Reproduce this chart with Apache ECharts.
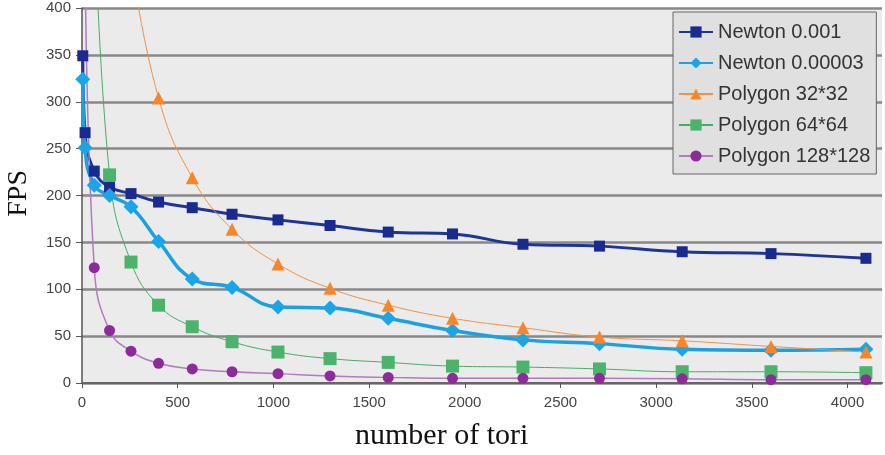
<!DOCTYPE html>
<html>
<head>
<meta charset="utf-8">
<script src="https://cdn.jsdelivr.net/npm/echarts@6/dist/echarts.min.js"></script>
<style>
  html, body { margin: 0; padding: 0; background: #fff; }
  #chart { width: 885px; height: 455px; }
</style>
</head>
<body>
<div id="chart"></div>
<script>
// number of tori (squares: 2^2 ... 64^2)
var tori = [4, 16, 64, 144, 256, 400, 576, 784, 1024, 1296, 1600, 1936, 2304, 2704, 3136, 3600, 4096];

var newton001   = [349, 267, 226, 209, 202, 193, 187, 180, 174, 168, 161, 159, 148, 146, 140, 138, 133];
var newton00003 = [324, 251, 211, 200, 188, 151, 111, 102, 81, 80, 69, 56, 46, 42, 36, 35, 36];
// polygon series start later, first points lie above the plot
var poly32  = [450, 304, 219, 164, 127, 101, 83, 69, 59, 49, 45, 39, 33];
var poly64  = [520, 222, 129, 83, 60, 44, 33, 26, 22, 18, 17, 15, 12, 12, 11];
var poly128 = [480, 123, 56, 34, 21, 15, 12, 10, 7.5, 6, 5, 5, 5, 4.5, 3.5, 3.5];

var xTicks = [0, 500, 1000, 1500, 2000, 2500, 3000, 3500, 4000];

function pairs(values) {
  var xs = tori.slice(tori.length - values.length);
  var res = [];
  for (var i = 0; i < values.length; i++) {
    res.push([xs[i], values[i]]);
  }
  return res;
}

function makeSeries(name, values, lineColor, markColor, width, symbol, size) {
  return {
    name: name,
    type: 'line',
    data: pairs(values),
    smooth: 0.45,
    symbol: symbol,
    symbolSize: size,
    showAllSymbol: true,
    clip: true,
    lineStyle: { color: lineColor, width: width },
    itemStyle: { color: markColor },
    emphasis: { disabled: true }
  };
}

var chart = echarts.init(document.getElementById('chart'));
chart.setOption({
  animation: false,
  grid: {
    left: 82, right: 3, top: 8, bottom: 72,
    show: true, backgroundColor: '#ebebeb', borderWidth: 0
  },
  legend: {
    orient: 'vertical',
    left: 673, top: 12,
    padding: [10, 6, 8, 5],
    itemGap: 11,
    itemWidth: 34,
    itemHeight: 14,
    backgroundColor: '#e0e0e0',
    borderColor: '#666',
    borderWidth: 1,
    textStyle: { fontFamily: 'Liberation Sans', fontSize: 20, color: '#333', lineHeight: 20 }
  },
  xAxis: {
    type: 'value',
    min: 0, max: 4180, interval: 500,
    axisLine: { show: true, lineStyle: { color: '#666', width: 2 } },
    axisTick: { show: true, customValues: xTicks, length: 5, lineStyle: { color: '#555' } },
    axisLabel: {
      customValues: xTicks,
      formatter: function (v) { return String(v); },
      margin: 12,
      fontFamily: 'Liberation Sans', fontSize: 15, color: '#444'
    },
    splitLine: { show: false }
  },
  yAxis: {
    type: 'value',
    min: 0, max: 400, interval: 50,
    axisLine: { show: true, lineStyle: { color: '#555', width: 1.5 } },
    axisTick: { show: true, length: 6, lineStyle: { color: '#555' } },
    axisLabel: { margin: 11, fontFamily: 'Liberation Sans', fontSize: 15, color: '#444' },
    splitLine: { show: true, lineStyle: { color: '#888', width: 2.5 } }
  },
  graphic: [
    {
      type: 'text', left: 5, top: 170, rotation: Math.PI / 2,
      style: { text: 'FPS', font: '28px "Liberation Serif"', fill: '#111' }
    },
    {
      type: 'text', left: 355, top: 421,
      style: { text: 'number of tori', font: '30px "Liberation Serif"', fill: '#111' }
    }
  ],
  series: [
    makeSeries('Newton 0.001', newton001, '#1c3597', '#1a2b8f', 3, 'rect', 11),
    makeSeries('Newton 0.00003', newton00003, '#1ba0e0', '#1aa6e6', 3.5, 'diamond', 15),
    makeSeries('Polygon 32*32', poly32, '#f59040', '#f7862a', 1, 'triangle', 13),
    makeSeries('Polygon 64*64', poly64, '#47ad62', '#4cb46a', 1, 'rect', 13),
    makeSeries('Polygon 128*128', poly128, '#b27ac0', '#8d2a9c', 1.5, 'circle', 11)
  ]
});
</script>
</body>
</html>
